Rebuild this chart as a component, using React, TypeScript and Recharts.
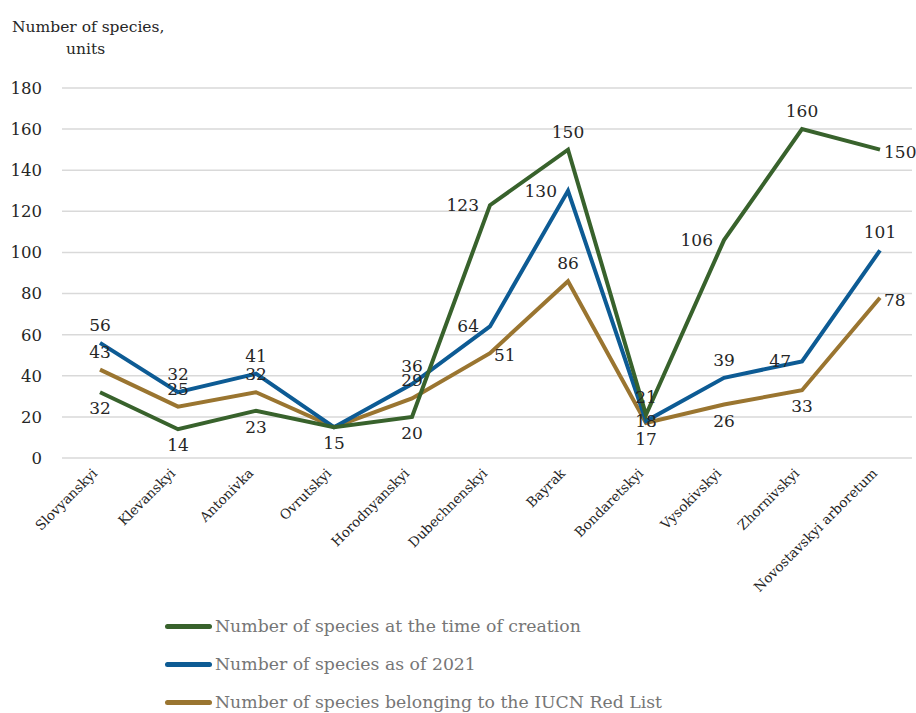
import React from "react";
import { LineChart, Line, XAxis, YAxis, CartesianGrid, LabelList } from "recharts";

const categories = [
  "Slovyanskyi",
  "Klevanskyi",
  "Antonivka",
  "Ovrutskyi",
  "Horodnyanskyi",
  "Dubechnenskyi",
  "Bayrak",
  "Bondaretskyi",
  "Vysokivskyi",
  "Zhornivskyi",
  "Novostavskyi arboretum",
];
const creation = [32, 14, 23, 15, 20, 123, 150, 21, 106, 160, 150];
const as2021 = [56, 32, 41, 15, 36, 64, 130, 18, 39, 47, 101];
const iucn = [43, 25, 32, 15, 29, 51, 86, 17, 26, 33, 78];
const yTicks = [0, 20, 40, 60, 80, 100, 120, 140, 160, 180];

// label placement per point (style only)
const creationPos = ["below", "below", "below", "below", "below", "left", "above", "above", "left", "above", "right"];
const as2021Pos = ["above", "above", "above", "none", "above", "left", "left", "center", "above", "left", "above"];
const iucnPos = ["above", "above", "above", "none", "above", "right", "above", "below", "below", "below", "right"];

const data = categories.map((name, i) => ({
  name,
  creation: creation[i],
  as2021: as2021[i],
  iucn: iucn[i],
}));

const FONT = "'DejaVu Serif', serif";
const GREEN = "#38622c";
const BLUE = "#0d5b94";
const GOLD = "#9a7530";

const makeLabel = (positions: string[]) => (props: any) => {
  const { x, y, value, index } = props;
  const pos = positions[index];
  if (pos === "none") return null;
  let dx = 0;
  let dy = 0;
  let anchor: "middle" | "start" | "end" = "middle";
  if (pos === "above") dy = -12;
  if (pos === "below") dy = 22;
  if (pos === "left") {
    dx = -11;
    anchor = "end";
    dy = 6;
  }
  if (pos === "right") {
    dx = 4;
    anchor = "start";
    dy = 8;
  }
  if (pos === "center") dy = 6;
  return (
    <text
      x={x + dx}
      y={y + dy}
      textAnchor={anchor}
      fontFamily={FONT}
      fontSize={17}
      fill="#262626"
    >
      {value}
    </text>
  );
};

const XTick = (props: any) => {
  const { x, y, payload } = props;
  return (
    <text
      x={x - 4}
      y={y}
      transform={`rotate(-45, ${x - 4}, ${y})`}
      textAnchor="end"
      fontFamily={FONT}
      fontSize={13.5}
      fill="#262626"
      dy={3}
    >
      {payload.value}
    </text>
  );
};

const legendItems = [
  { label: "Number of species at the time of creation", color: GREEN },
  { label: "Number of species as of 2021", color: BLUE },
  { label: "Number of species belonging to the IUCN Red List", color: GOLD },
];

export default function App() {
  return (
    <div
      style={{
        position: "absolute",
        left: 0,
        top: 0,
        width: 916,
        height: 713,
        overflow: "hidden",
        background: "#fff",
      }}
    >
      <div
        style={{
          position: "absolute",
          left: 12,
          top: 16,
          fontFamily: FONT,
          fontSize: 15.5,
          color: "#262626",
          lineHeight: "22px",
        }}
      >
        Number of species,
        <div style={{ paddingLeft: 54 }}>units</div>
      </div>
      <LineChart
        width={916}
        height={713}
        data={data}
        margin={{ top: 88, right: 4, left: 0, bottom: 135 }}
      >
        <CartesianGrid horizontal vertical={false} stroke="#d9d9d9" strokeWidth={1.5} />
        <XAxis
          dataKey="name"
          interval={0}
          tick={<XTick />}
          tickLine={false}
          axisLine={false}
          padding={{ left: 38, right: 32 }}
          height={120}
          tickMargin={8}
        />
        <YAxis
          domain={[0, 180]}
          ticks={yTicks}
          width={62}
          tickLine={false}
          axisLine={false}
          tickMargin={14}
          tick={{ fontFamily: FONT, fontSize: 16.5, fill: "#262626" }}
        />
        <Line
          dataKey="iucn"
          stroke={GOLD}
          strokeWidth={4}
          dot={false}
          isAnimationActive={false}
        >
          <LabelList dataKey="iucn" content={makeLabel(iucnPos)} />
        </Line>
        <Line
          dataKey="as2021"
          stroke={BLUE}
          strokeWidth={4}
          dot={false}
          isAnimationActive={false}
        >
          <LabelList dataKey="as2021" content={makeLabel(as2021Pos)} />
        </Line>
        <Line
          dataKey="creation"
          stroke={GREEN}
          strokeWidth={4}
          dot={false}
          isAnimationActive={false}
        >
          <LabelList dataKey="creation" content={makeLabel(creationPos)} />
        </Line>
      </LineChart>
      <div style={{ position: "absolute", left: 165, top: 607 }}>
        {legendItems.map((it) => (
          <div
            key={it.label}
            style={{
              display: "flex",
              alignItems: "center",
              height: 38,
              fontFamily: FONT,
              fontSize: 17.3,
              color: "#767676",
              whiteSpace: "nowrap",
            }}
          >
            <div
              style={{
                width: 47,
                height: 5,
                borderRadius: 3,
                background: it.color,
                marginRight: 3,
              }}
            />
            {it.label}
          </div>
        ))}
      </div>
    </div>
  );
}
